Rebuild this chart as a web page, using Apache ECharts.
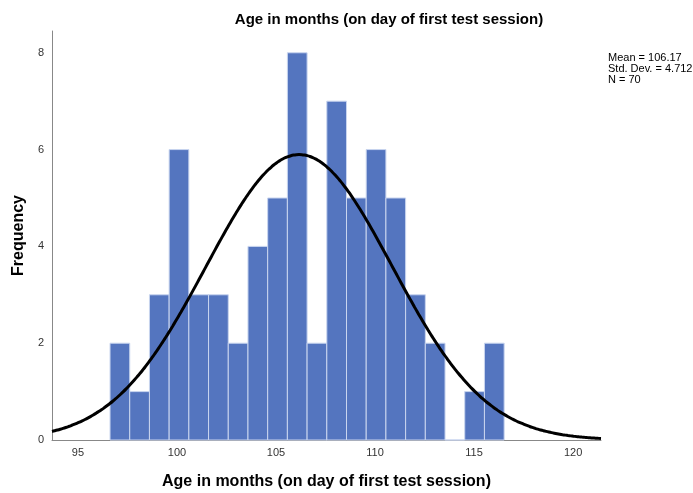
<!DOCTYPE html>
<html>
<head>
<meta charset="utf-8">
<script src="https://cdn.jsdelivr.net/npm/echarts@6/dist/echarts.min.js"></script>
<style>
  html, body { margin: 0; padding: 0; background: #fff; }
  #chart { width: 693px; height: 493px; }
</style>
</head>
<body>
<div id="chart"></div>
<script>
// Histogram of age in months with fitted normal curve
const binStart = 96.62;
const binWidth = 0.995;
const counts = [2, 1, 3, 6, 3, 3, 2, 4, 5, 8, 2, 7, 5, 6, 5, 3, 2, 0, 1, 2];
const xTicks = [95, 100, 105, 110, 115, 120];
const yTicks = [0, 2, 4, 6, 8];
const statMean = 106.17;
const statSD = 4.712;
const statN = 70;
const xRange = [93.69, 121.41];
const yMax = 8.45;

const bars = counts.map((c, i) => [binStart + i * binWidth, binStart + (i + 1) * binWidth, c]);

// Normal density scaled to counts per bin, from the reported mean, SD and N
const curve = [];
const steps = 200;
for (let k = 0; k <= steps; k++) {
  const x = xRange[0] + (xRange[1] - xRange[0]) * k / steps;
  const z = (x - statMean) / statSD;
  const y = statN * binWidth * Math.exp(-0.5 * z * z) / (statSD * Math.sqrt(2 * Math.PI));
  curve.push([x, y]);
}

const font = '"Liberation Sans", Arial, sans-serif';
const chart = echarts.init(document.getElementById('chart'), null, { renderer: 'canvas' });
chart.setOption({
  animation: false,
  backgroundColor: '#fff',
  title: {
    text: 'Age in months (on day of first test session)',
    left: 384, top: 7, textAlign: 'center',
    textStyle: { fontFamily: font, fontSize: 15, fontWeight: 'bold', color: '#000' }
  },
  graphic: [{
    type: 'text', left: 608, top: 52,
    style: {
      text: 'Mean = ' + statMean.toFixed(2) + '\nStd. Dev. = ' + statSD.toFixed(3) + '\nN = ' + statN,
      font: '11px ' + font, fill: '#000', lineHeight: 11
    }
  }],
  grid: { left: 52, right: 92, top: 31, bottom: 53, containLabel: false, outerBoundsMode: 'none' },
  xAxis: {
    type: 'value', min: xRange[0], max: xRange[1],
    name: 'Age in months (on day of first test session)',
    nameLocation: 'middle', nameGap: 34,
    nameTextStyle: { fontFamily: font, fontSize: 16, fontWeight: 'bold', color: '#000' },
    axisLine: { show: true, lineStyle: { color: '#888', width: 1 } },
    axisTick: { show: false },
    splitLine: { show: false },
    axisLabel: { customValues: xTicks, fontFamily: font, fontSize: 11, color: '#333', margin: 7 }
  },
  yAxis: {
    type: 'value', min: 0, max: yMax,
    name: 'Frequency', nameLocation: 'middle', nameGap: 25, nameRotate: 90,
    nameTextStyle: { fontFamily: font, fontSize: 16, fontWeight: 'bold', color: '#000' },
    axisLine: { show: true, lineStyle: { color: '#888', width: 1 } },
    axisTick: { show: false },
    splitLine: { show: false },
    axisLabel: { customValues: yTicks, fontFamily: font, fontSize: 11, color: '#333', margin: 8 }
  },
  series: [{
    type: 'custom',
    data: bars,
    renderItem: function (params, api) {
      const p0 = api.coord([api.value(0), api.value(2)]);
      const p1 = api.coord([api.value(1), 0]);
      return {
        type: 'rect',
        shape: { x: p0[0], y: p0[1], width: p1[0] - p0[0], height: p1[1] - p0[1] },
        style: { fill: '#5475bf', stroke: '#c9d5ef', lineWidth: 1 }
      };
    },
    encode: { x: [0, 1], y: 2 },
    z: 2
  }, {
    type: 'line',
    data: curve,
    showSymbol: false,
    symbol: 'none',
    smooth: true,
    lineStyle: { color: '#000', width: 3 },
    z: 3
  }]
});
</script>
</body>
</html>
